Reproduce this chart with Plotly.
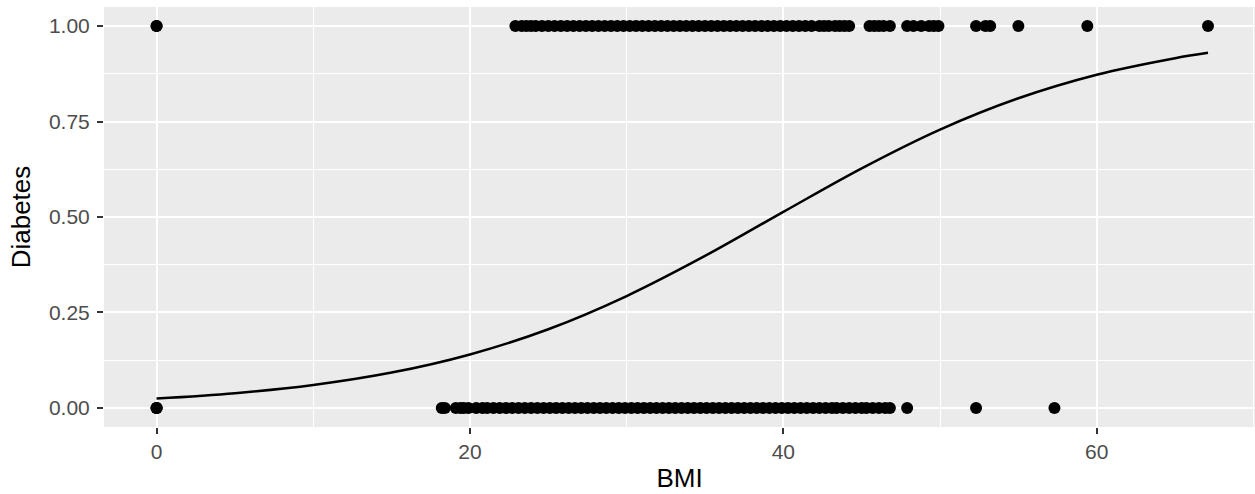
import plotly.graph_objects as go

# BMI values of observations with Diabetes = 1
bmi_diabetic = [0.0, 0.0, 22.9, 23.3, 23.6, 23.9, 24.2, 24.6, 25.0, 25.4, 25.8, 26.2, 26.6,
                27.0, 27.4, 27.8, 28.2, 28.6, 29.0, 29.4, 29.8, 30.2, 30.6, 31.0, 31.4,
                31.8, 32.2, 32.6, 33.0, 33.4, 33.8, 34.2, 34.6, 35.0, 35.4, 35.8, 36.2,
                36.6, 37.0, 37.4, 37.8, 38.2, 38.6, 39.0, 39.4, 39.8, 40.2, 40.6, 41.0,
                41.4, 41.8, 42.3, 42.6, 42.9, 43.3, 43.6, 43.9, 44.2, 45.5, 45.8, 46.1,
                46.4, 46.8, 47.9, 48.3, 48.8, 49.3, 49.6, 49.9, 52.3, 52.9, 53.2, 55.0,
                59.4, 67.1]

# BMI values of observations with Diabetes = 0
bmi_nondiabetic = [0.0, 0.0, 0.0, 18.2, 18.4, 19.1, 19.4, 19.6, 19.9, 20.4, 20.8, 21.1,
                   21.5, 21.9, 22.3, 22.7, 23.1, 23.5, 23.9, 24.3, 24.7, 25.1, 25.5, 25.9,
                   26.3, 26.7, 27.1, 27.5, 27.9, 28.3, 28.7, 29.1, 29.5, 29.9, 30.3, 30.7,
                   31.1, 31.5, 31.9, 32.3, 32.7, 33.1, 33.5, 33.9, 34.3, 34.7, 35.1, 35.5,
                   35.9, 36.3, 36.7, 37.1, 37.5, 37.9, 38.3, 38.7, 39.1, 39.5, 39.9, 40.3,
                   40.7, 41.1, 41.5, 41.9, 42.3, 42.7, 43.1, 43.4, 43.8, 44.2, 44.6, 45.0,
                   45.3, 45.7, 46.1, 46.5, 46.8, 47.9, 52.3, 57.3]

# Fitted logistic curve
curve_bmi = [0, 5, 10, 15, 20, 25, 30, 35, 40, 45, 50, 55, 60, 65, 67.1]
curve_prob = [0.0244, 0.0385, 0.060, 0.0925, 0.140, 0.206, 0.293, 0.398, 0.5135,
              0.6275, 0.729, 0.811, 0.8727, 0.916, 0.930]

x_ticks = [0, 20, 40, 60]
y_ticks = [0, 0.25, 0.5, 0.75, 1.0]
y_tick_labels = ["0.00", "0.25", "0.50", "0.75", "1.00"]

fig = go.Figure()
fig.add_trace(go.Scatter(x=bmi_diabetic, y=[1] * len(bmi_diabetic), mode="markers",
                         marker=dict(color="black", size=12), hoverinfo="x+y"))
fig.add_trace(go.Scatter(x=bmi_nondiabetic, y=[0] * len(bmi_nondiabetic), mode="markers",
                         marker=dict(color="black", size=12), hoverinfo="x+y"))
fig.add_trace(go.Scatter(x=curve_bmi, y=curve_prob, mode="lines",
                         line=dict(color="black", width=2.5, shape="spline")))

axis_common = dict(
    showgrid=True, gridcolor="white", gridwidth=2, zeroline=False,
    ticks="outside", ticklen=6, tickwidth=1.5, tickcolor="#333333",
    tickfont=dict(family="Liberation Sans, Arial", size=21, color="#4D4D4D"),
    showline=False,
)

fig.update_layout(
    width=1255, height=494,
    margin=dict(l=104, r=0, t=7, b=67, autoexpand=False),
    paper_bgcolor="white", plot_bgcolor="#EBEBEB",
    showlegend=False,
    xaxis=dict(**axis_common, range=[-3.355, 70.1], tickvals=x_ticks,
               ticktext=[str(v) for v in x_ticks],
               minor=dict(dtick=10, tick0=0, showgrid=True, gridcolor="white",
                          gridwidth=1, ticklen=0),
               title=dict(text="BMI", standoff=6,
                          font=dict(family="Liberation Sans, Arial", size=26, color="black"))),
    yaxis=dict(**axis_common, range=[-0.05, 1.05], tickvals=y_ticks,
               ticktext=y_tick_labels, ticklabelstandoff=3,
               minor=dict(dtick=0.125, tick0=0, showgrid=True, gridcolor="white",
                          gridwidth=1, ticklen=0),
               title=dict(text="Diabetes", standoff=10,
                          font=dict(family="Liberation Sans, Arial", size=26, color="black"))),
)

fig.write_html("out.html", config={"displayModeBar": False},
               post_script="document.body.style.margin='0';document.body.style.overflow='hidden';")
